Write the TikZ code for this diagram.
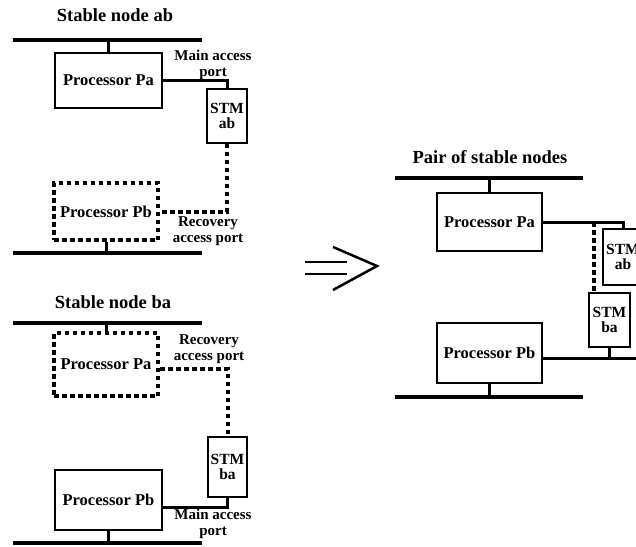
\documentclass[tikz,border=0pt]{standalone}
\usepackage{fontspec}
\setmainfont{Liberation Serif}
\usetikzlibrary{calc}
\tikzset{
  proc/.style={draw,line width=1.8pt,minimum width=105pt,minimum height=58pt,
    inner sep=0pt,font=\fontsize{16.5}{16}\selectfont\bfseries},
  lostproc/.style={proc,line width=4pt,dash pattern=on 4.5pt off 3.5pt},
  stm/.style={draw,line width=1.8pt,minimum width=40pt,minimum height=55pt,
    inner sep=0pt,align=center,font=\fontsize{15.5}{15.5}\selectfont\bfseries},
  lbl/.style={inner sep=0pt,align=center,font=\fontsize{15}{15.5}\selectfont\bfseries},
  ttl/.style={inner sep=0pt,font=\fontsize{18.5}{20}\selectfont\bfseries},
  bus/.style={line width=4.5pt},
  stem/.style={line width=3pt},
  link/.style={line width=3pt},
  dotlink/.style={line width=4pt,dash pattern=on 4.5pt off 3.5pt}
}
\begin{document}
\begin{tikzpicture}[x=1pt,y=-1pt]
  \useasboundingbox (0,0) rectangle (636,546);
  \clip (0,0) rectangle (636,546);
  % stable node ab
  \node[ttl] (tab) at (115,15) {Stable node ab};
  \coordinate (b1w) at (13,40); \coordinate (b1e) at (202,40);
  \coordinate (b2w) at (13,253); \coordinate (b2e) at (202,253);
  \draw[bus] (b1w) -- (b1e);
  \draw[bus] (b2w) -- (b2e);
  \node[proc,minimum width=107pt,minimum height=55pt] (Pa1) at (108.5,80.5) {Processor Pa};
  \node[stm,minimum height=54pt] (ab1) at (227,116) {STM\\ab};
  \node[lostproc,minimum width=104pt,minimum height=57pt] (Pb1) at (106,211.5) {Processor Pb};
  \draw[stem] (Pa1.north) -- (Pa1.north |- b1w);
  \draw[stem] (Pb1.south) -- (Pb1.south |- b2w);
  \draw[link] (Pa1.east) -| (ab1.north);
  \draw[dotlink] (ab1.south) |- (Pb1.east);
  \node[lbl] (mab) at (213,65) {Main access\\port};
  \node[lbl] (rab) at (208,231) {Recovery\\access port};
  % stable node ba
  \node[ttl] (tba) at (113,302) {Stable node ba};
  \coordinate (b3w) at (13,323); \coordinate (b3e) at (202,323);
  \coordinate (b4w) at (13,543); \coordinate (b4e) at (202,543);
  \draw[bus] (b3w) -- (b3e);
  \draw[bus] (b4w) -- (b4e);
  \node[lostproc,minimum width=104pt,minimum height=63pt] (Pa2) at (106,364.5) {Processor Pa};
  \node[stm,minimum width=39pt,minimum height=60pt] (ba2) at (227.5,467) {STM\\ba};
  \node[proc,minimum width=107pt,minimum height=60pt] (Pb2) at (108.5,500) {Processor Pb};
  \coordinate (r2) at ($(Pa2.east)+(0,4.5)$);
  \coordinate (m2) at ($(Pb2.east)+(0,7)$);
  \draw[stem] (Pa2.north) -- (Pa2.north |- b3w);
  \draw[stem] (Pb2.south) -- (Pb2.south |- b4w);
  \draw[dotlink] (r2) -| (ba2.north);
  \draw[link] (m2) -| (ba2.south);
  \node[lbl] (rba) at (209,349) {Recovery\\access port};
  \node[lbl] (mba) at (213,524) {Main access\\port};
  % arrow
  \coordinate (a1) at (305,262); \coordinate (a2) at (347,262);
  \coordinate (a3) at (305,274); \coordinate (a4) at (347,274);
  \draw[line width=2.5pt] (a1) -- (a2);
  \draw[line width=2.5pt] (a3) -- (a4);
  \draw[line width=2.5pt] (333,247) -- (377,266) -- (333,290);
  % pair of stable nodes
  \node[ttl] (tpair) at (490,157) {Pair of stable nodes};
  \coordinate (b5w) at (395,178); \coordinate (b5e) at (583,178);
  \coordinate (b6w) at (395,397); \coordinate (b6e) at (583,397);
  \draw[bus] (b5w) -- (b5e);
  \draw[bus] (b6w) -- (b6e);
  \node[proc,minimum height=58pt] (Pa3) at (489.5,222) {Processor Pa};
  \node[proc,minimum height=60pt] (Pb3) at (489.5,353) {Processor Pb};
  \node[stm,minimum height=56pt] (ab3) at (623,257) {STM\\ab};
  \node[stm,minimum width=41pt,minimum height=54pt] (ba3) at (609.5,320) {STM\\ba};
  \coordinate (m3) at ($(Pb3.east)+(0,5)$);
  \coordinate (e3) at (640,358);
  \coordinate (d3) at ($(ba3.north west)+(6,0)$);
  \draw[stem] (Pa3.north) -- (Pa3.north |- b5w);
  \draw[stem] (Pb3.south) -- (Pb3.south |- b6w);
  \draw[link] (Pa3.east) -| (ab3.north);
  \draw[link] (m3) -- (e3);
  \draw[stem] (ba3.south) -- (ba3.south |- m3);
  \draw[dotlink] (d3 |- Pa3.east) -- (d3);
\end{tikzpicture}
\end{document}
